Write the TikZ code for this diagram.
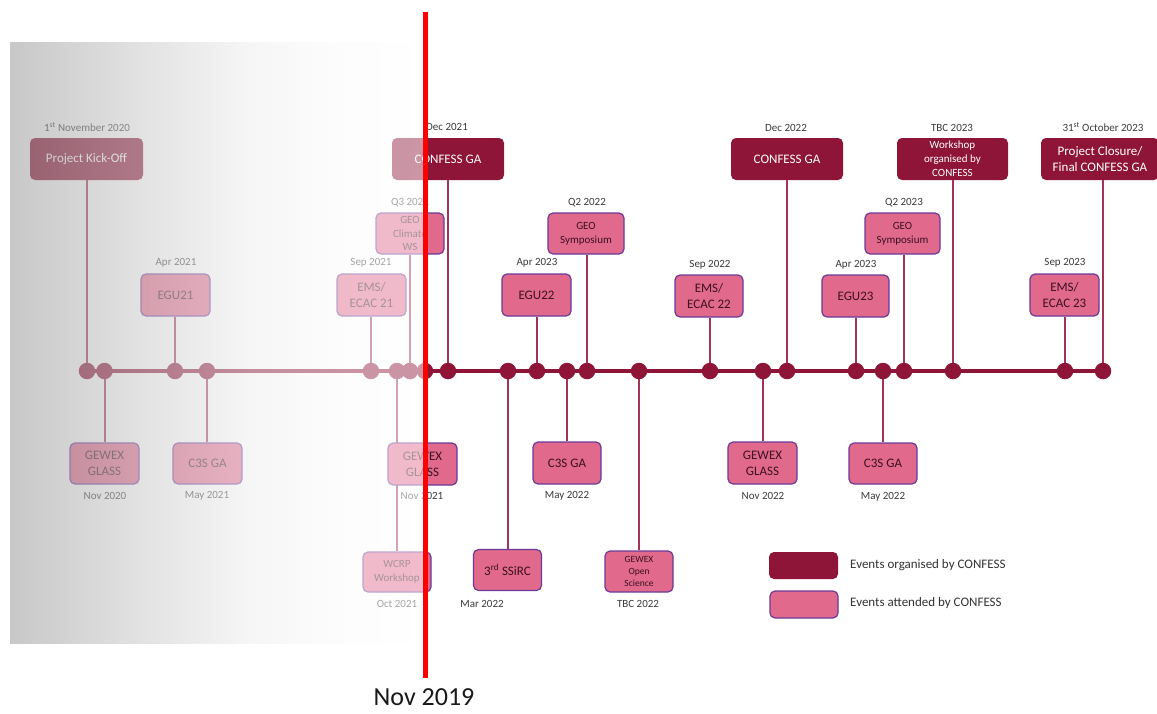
\documentclass[tikz,border=0pt]{standalone}
\usepackage{fontspec}
\setmainfont{Carlito}
\definecolor{orgc}{HTML}{8E1538}
\definecolor{attc}{HTML}{E1698C}
\definecolor{attb}{HTML}{6A3A9A}
\definecolor{atttxt}{HTML}{3B1020}
\definecolor{stemc}{HTML}{A13355}
\definecolor{datec}{HTML}{3A3A3A}
\pgfdeclarehorizontalshading{pastfade}{100bp}{color(0bp)=(black!39); color(25bp)=(black!39); color(31bp)=(black!32); color(42bp)=(black!19); color(54bp)=(black!6); color(66bp)=(black!1); color(75bp)=(white); color(100bp)=(white)}
\begin{document}
\begin{tikzpicture}[x=1pt,y=-1pt,
  org/.style={rounded corners=5pt, fill=orgc, text=white, align=center, inner sep=0pt,
    font=\fontsize{13}{15.5}\selectfont},
  att/.style={rounded corners=5pt, fill=attc, draw=attb, line width=1.2pt, text=atttxt, align=center, inner sep=0pt,
    font=\fontsize{13}{16}\selectfont},
  small/.style={font=\fontsize{11}{13.8}\selectfont},
  tiny/.style={font=\fontsize{9.5}{12}\selectfont},
  datelbl/.style={text=datec, inner sep=0pt, font=\fontsize{11}{12}\selectfont},
  dot/.style={circle, fill=orgc, minimum size=16.5pt, inner sep=0pt},
  stem/.style={draw=stemc, line width=2pt},
  mainline/.style={draw=orgc, line width=4pt},
  legendtxt/.style={anchor=west, inner sep=0pt, text=black!80, font=\fontsize{13}{15}\selectfont},
]
\useasboundingbox (0,0) rectangle (1157,713);
\fill[white] (0,0) rectangle (1157,713);

% dot positions
\foreach \n/\x in {a/87,b/104.5,c/175,d/207,e/371,f/397,g/410,h/425,i/448,j/508,k/537,l/567,m/587,n/639,o/710,p/763,q/787,r/856,s/883,t/904,u/953,v/1065,w/1103}
  \coordinate (c\n) at (\x,371);

% top boxes
\node[org, minimum width=113pt, minimum height=42pt] (kick) at (86.5,159) {Project Kick-Off};
\node[att, minimum width=69pt, minimum height=42pt] (egu21) at (175.5,295) {EGU21};
\node[att, minimum width=69pt, minimum height=42pt] (ems21) at (371.5,295) {EMS/\\ECAC 21};
\node[att, small, minimum width=68pt, minimum height=41pt] (geoclim) at (410,233.5) {GEO\\Climate\\WS};
\node[org, minimum width=112pt, minimum height=42pt] (ga21) at (448,159) {CONFESS GA};
\node[att, minimum width=69pt, minimum height=42pt] (egu22) at (536.5,295) {EGU22};
\node[att, small, minimum width=76pt, minimum height=41pt] (geosym22) at (586,233.5) {GEO\\Symposium};
\node[org, minimum width=112pt, minimum height=42pt] (ga22) at (787,159) {CONFESS GA};
\node[att, minimum width=68pt, minimum height=42pt] (ems22) at (709,296) {EMS/\\ECAC 22};
\node[att, minimum width=67pt, minimum height=42pt] (egu23) at (855.5,296) {EGU23};
\node[att, small, minimum width=75pt, minimum height=41pt] (geosym23) at (902.5,233.5) {GEO\\Symposium};
\node[org, small, minimum width=111pt, minimum height=42pt] (ws23) at (952.5,159) {Workshop\\organised by\\CONFESS};
\node[org, minimum width=118pt, minimum height=42pt] (closure) at (1100,159) {Project Closure/\\Final CONFESS GA};
\node[att, minimum width=69pt, minimum height=42pt] (ems23) at (1064.5,295) {EMS/\\ECAC 23};

% bottom boxes
\node[att, minimum width=69pt, minimum height=41pt] (glass20) at (104.5,463.5) {GEWEX\\GLASS};
\node[att, minimum width=69pt, minimum height=41pt] (c3s21) at (207.5,463.5) {C3S GA};
\node[att, small, minimum width=68pt, minimum height=40pt] (wcrp) at (397,572) {WCRP\\Workshop};
\node[att, minimum width=68pt, minimum height=41pt] (ssirc) at (507.5,570) {3\textsuperscript{rd} SSiRC};
\node[att, minimum width=68pt, minimum height=42pt] (c3s22) at (567,463) {C3S GA};
\node[att, tiny, minimum width=68pt, minimum height=41pt] (gewexos) at (639,571.5) {GEWEX\\Open\\Science};
\node[att, minimum width=69pt, minimum height=42pt] (glass22) at (762.5,463) {GEWEX\\GLASS};
\node[att, minimum width=68pt, minimum height=41pt] (c3s22b) at (883,463.5) {C3S GA};

% stems
\foreach \c/\b in {ca/kick,cc/egu21,ce/ems21,cg/geoclim,ci/ga21,ck/egu22,cm/geosym22,cq/ga22,co/ems22,cr/egu23,ct/geosym23,cu/ws23,cw/closure,cv/ems23}
  \draw[stem] (\c) -- (\c |- \b.south);
\foreach \c/\b in {cb/glass20,cd/c3s21,cf/wcrp,cj/ssirc,cl/c3s22,cn/gewexos,cp/glass22,cs/c3s22b}
  \draw[stem] (\c) -- (\c |- \b.north);

% main line and dots
\draw[mainline] (ca) -- (cw);
\foreach \n in {a,b,c,d,e,f,g,h,i,j,k,l,m,n,o,p,q,r,s,t,u,v,w}
  \node[dot] (d\n) at (c\n) {};

% GEWEX GLASS Nov 2021, drawn over the WCRP stem
\node[att, minimum width=69pt, minimum height=42pt] (glass21) at (422.5,464) {GEWEX\\GLASS};
\draw[stem] (ch) -- (ch |- glass21.north);

% date labels
\node[datelbl] (l1) at (87,127) {1\textsuperscript{st} November 2020};
\node[datelbl] (l2) at (176,263) {Apr 2021};
\node[datelbl] (l3) at (371,263) {Sep 2021};
\node[datelbl] (l4) at (410,203) {Q3 2021};
\node[datelbl] (l5) at (447,127) {Dec 2021};
\node[datelbl] (l6) at (537,263) {Apr 2023};
\node[datelbl] (l7) at (587,203) {Q2 2022};
\node[datelbl] (l8) at (786,128) {Dec 2022};
\node[datelbl] (l9) at (710,265) {Sep 2022};
\node[datelbl] (l10) at (856,265) {Apr 2023};
\node[datelbl] (l11) at (904,203) {Q2 2023};
\node[datelbl] (l12) at (952,128) {TBC 2023};
\node[datelbl] (l13) at (1103,127) {31\textsuperscript{st} October 2023};
\node[datelbl] (l14) at (1065,263) {Sep 2023};
\node[datelbl] (l15) at (105,496) {Nov 2020};
\node[datelbl] (l16) at (207,496) {May 2021};
\node[datelbl] (l17) at (397,604) {Oct 2021};
\node[datelbl] (l18) at (422,496) {Nov 2021};
\node[datelbl] (l19) at (482,604) {Mar 2022};
\node[datelbl] (l20) at (567,496) {May 2022};
\node[datelbl] (l21) at (638,604) {TBC 2022};
\node[datelbl] (l22) at (763,496) {Nov 2022};
\node[datelbl] (l23) at (883,497) {May 2022};

% legend
\node[org, minimum width=69pt, minimum height=27pt] (lgorg) at (803.5,565.5) {};
\node[att, minimum width=68pt, minimum height=27pt] (lgatt) at (804,604.5) {};
\node[legendtxt] (lgorgt) at (850,565) {Events organised by CONFESS};
\node[legendtxt] (lgattt) at (850,603.5) {Events attended by CONFESS};

% faded past overlay
\shade[shading=pastfade, fill opacity=0.55] (10,42) rectangle (425,643);

% red "now" line
\coordinate (rtop) at (425,12);
\coordinate (rbot) at (425,678);
\draw[red, line width=5pt] (rtop) -- (rbot);
\node[anchor=base, inner sep=0pt, text=black!90, font=\fontsize{26}{30}\selectfont] (nowlbl) at (424,705) {Nov 2019};
\end{tikzpicture}
\end{document}
